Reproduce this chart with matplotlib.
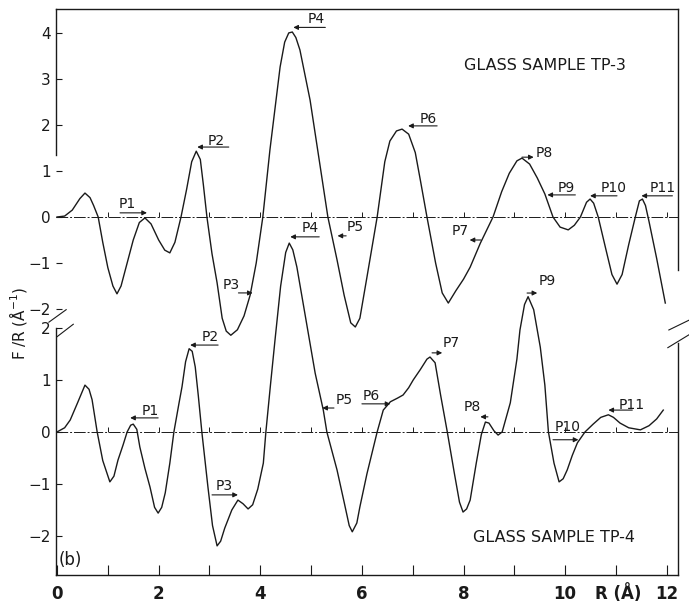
"""
Radial distribution F/R for glass samples TP-3 and TP-4 (two stacked curves).
"""

import matplotlib.pyplot as plt
import numpy as np

# ---- data ----
# upper curve: glass sample TP-3 (own y scale, -2 .. 4)
r_tp3 = [0.00, 0.15, 0.30, 0.45, 0.55, 0.65, 0.72, 0.81, 0.90, 1.00,
         1.10, 1.18, 1.26, 1.38, 1.50, 1.62, 1.73, 1.85, 2.00, 2.12,
         2.22, 2.32, 2.44, 2.55, 2.65, 2.74, 2.82, 2.88, 2.95, 3.05,
         3.15, 3.25, 3.33, 3.42, 3.55, 3.68, 3.80, 3.92, 4.05, 4.19,
         4.30, 4.39, 4.48, 4.56, 4.63, 4.70, 4.78, 4.98, 5.18, 5.33,
         5.51, 5.65, 5.78, 5.87, 5.96, 6.10, 6.30, 6.45, 6.55, 6.68,
         6.79, 6.92, 7.05, 7.15, 7.28, 7.45, 7.58, 7.70, 7.85, 8.00,
         8.13, 8.33, 8.58, 8.75, 8.90, 9.05, 9.15, 9.30, 9.45, 9.60,
         9.76, 9.90, 10.06, 10.18, 10.30, 10.42, 10.49, 10.56, 10.65, 10.80,
         10.92, 11.02, 11.12, 11.25, 11.38, 11.46, 11.52, 11.58, 11.65, 11.80,
         11.97]
f_tp3 = [0.00, 0.02, 0.15, 0.40, 0.52, 0.42, 0.25, 0.00, -0.55, -1.10,
         -1.50, -1.67, -1.50, -1.00, -0.50, -0.12, -0.02, -0.15, -0.50, -0.72,
         -0.78, -0.55, 0.00, 0.60, 1.20, 1.43, 1.25, 0.70, 0.00, -0.80,
         -1.43, -2.20, -2.48, -2.57, -2.45, -2.15, -1.70, -1.00, 0.00, 1.46,
         2.45, 3.26, 3.80, 4.00, 4.02, 3.90, 3.63, 2.54, 1.09, 0.00,
         -0.93, -1.70, -2.30, -2.39, -2.20, -1.30, 0.00, 1.20, 1.65, 1.87,
         1.91, 1.80, 1.40, 0.80, 0.00, -1.00, -1.65, -1.87, -1.60, -1.35,
         -1.09, -0.57, 0.00, 0.55, 0.95, 1.22, 1.28, 1.15, 0.85, 0.50,
         0.00, -0.22, -0.28, -0.18, 0.00, 0.32, 0.39, 0.30, 0.00, -0.70,
         -1.25, -1.46, -1.25, -0.60, 0.00, 0.35, 0.39, 0.25, -0.10, -0.90,
         -1.87]

# lower curve: glass sample TP-4 (own y scale, -2 .. 2)
r_tp4 = [0.00, 0.15, 0.26, 0.40, 0.55, 0.63, 0.69, 0.79, 0.90, 1.04,
         1.12, 1.20, 1.30, 1.38, 1.45, 1.50, 1.57, 1.63, 1.73, 1.83,
         1.92, 1.99, 2.06, 2.13, 2.22, 2.30, 2.40, 2.46, 2.53, 2.60,
         2.66, 2.72, 2.78, 2.85, 2.97, 3.06, 3.15, 3.22, 3.30, 3.44,
         3.56, 3.66, 3.76, 3.85, 3.95, 4.06, 4.11, 4.20, 4.29, 4.40,
         4.50, 4.57, 4.64, 4.72, 4.90, 5.08, 5.24, 5.31, 5.51, 5.65,
         5.75, 5.81, 5.90, 5.96, 6.10, 6.30, 6.42, 6.56, 6.70, 6.81,
         6.92, 7.01, 7.15, 7.28, 7.34, 7.44, 7.55, 7.68, 7.82, 7.92,
         7.99, 8.06, 8.13, 8.25, 8.35, 8.43, 8.50, 8.60, 8.68, 8.76,
         8.92, 9.05, 9.11, 9.20, 9.27, 9.38, 9.51, 9.60, 9.67, 9.78,
         9.88, 9.96, 10.04, 10.14, 10.24, 10.39, 10.55, 10.70, 10.85, 10.95,
         11.08, 11.25, 11.48, 11.65, 11.80, 11.93]
f_tp4 = [0.00, 0.08, 0.23, 0.55, 0.90, 0.82, 0.62, 0.00, -0.55, -0.96,
         -0.85, -0.54, -0.25, 0.00, 0.13, 0.15, 0.05, -0.29, -0.70, -1.06,
         -1.45, -1.56, -1.45, -1.17, -0.60, 0.00, 0.55, 0.87, 1.35, 1.60,
         1.55, 1.25, 0.70, 0.00, -1.06, -1.80, -2.19, -2.10, -1.85, -1.50,
         -1.31, -1.38, -1.48, -1.40, -1.10, -0.60, 0.00, 0.90, 1.77, 2.80,
         3.45, 3.63, 3.50, 3.17, 2.15, 1.13, 0.42, 0.00, -0.73, -1.35,
         -1.80, -1.92, -1.75, -1.44, -0.80, 0.00, 0.42, 0.58, 0.65, 0.71,
         0.85, 1.00, 1.20, 1.40, 1.44, 1.33, 0.70, 0.00, -0.80, -1.35,
         -1.54, -1.48, -1.31, -0.60, -0.05, 0.19, 0.17, 0.02, -0.06, 0.00,
         0.56, 1.40, 1.96, 2.45, 2.60, 2.35, 1.63, 0.90, 0.00, -0.60,
         -0.96, -0.90, -0.73, -0.45, -0.21, 0.00, 0.15, 0.28, 0.33, 0.28,
         0.17, 0.08, 0.04, 0.12, 0.25, 0.42]

# peak labels: name, text (R, F), arrow tail R, arrow head R, arrow F
labels_tp3 = ["P1", "P2", "P3", "P4", "P5", "P6", "P7", "P8", "P9", "P10", "P11"]
text_r_tp3 = [1.38, 3.13, 3.42, 5.10, 5.87, 7.30, 7.93, 9.59, 10.02, 10.96, 11.91]
text_f_tp3 = [0.28, 1.65, -1.47, 4.30, -0.22, 2.13, -0.30, 1.39, 0.63, 0.63, 0.63]
tail_r_tp3 = [1.24, 3.38, 3.57, 5.28, 5.69, 7.48, 8.34, 9.15, 10.20, 11.02, 12.11]
head_r_tp3 = [1.77, 2.76, 3.85, 4.65, 5.52, 6.91, 8.12, 9.38, 9.65, 10.49, 11.50]
arrow_f_tp3 = [0.09, 1.52, -1.65, 4.12, -0.41, 1.98, -0.50, 1.30, 0.48, 0.46, 0.46]

labels_tp4 = ["P1", "P2", "P3", "P4", "P5", "P6", "P7", "P8", "P9", "P10", "P11"]
text_r_tp4 = [1.83, 3.01, 3.29, 4.98, 5.65, 6.18, 7.76, 8.17, 9.65, 10.04, 11.30]
text_f_tp4 = [0.40, 1.83, -1.04, 3.92, 0.62, 0.69, 1.71, 0.48, 2.90, 0.10, 0.52]
tail_r_tp4 = [1.99, 3.17, 3.05, 5.16, 5.45, 6.00, 7.38, 8.48, 9.25, 9.76, 11.32]
head_r_tp4 = [1.44, 2.62, 3.56, 4.59, 5.22, 6.56, 7.58, 8.33, 9.45, 10.26, 10.85]
arrow_f_tp4 = [0.27, 1.67, -1.21, 3.75, 0.46, 0.54, 1.52, 0.29, 2.67, -0.15, 0.42]

x_ticks = list(range(0, 13))
x_tick_labels = ["0", "", "2", "", "4", "", "6", "", "8", "", "10", "", "12"]
y_ticks_tp3 = [-2, -1, 0, 1, 2, 3, 4]
y_ticks_tp4 = [-2, -1, 0, 1, 2]

ink = "#1a1a1a"

fig = plt.figure(figsize=(6.89, 6.08), dpi=100)
rect = [56 / 689, 1 - 575 / 608, 622 / 689, 566 / 608]
ax_b = fig.add_axes(rect)
ax_t = fig.add_axes(rect, sharex=ax_b)
ax_t.patch.set_visible(False)

ax_b.set_xlim(-0.02, 12.22)
ax_b.set_ylim(-2.75, 8.13)
ax_t.set_ylim(-7.78, 4.52)

# curves
ax_t.plot(r_tp3, f_tp3, color=ink, lw=1.0)
ax_b.plot(r_tp4, f_tp4, color=ink, lw=1.0)

# zero base lines with small marks at each integer R
for ax in (ax_t, ax_b):
    ax.axhline(0, color=ink, lw=0.7, ls=(0, (12, 2, 2, 2)))
    ax.vlines(np.arange(1, 13), 0, 0.1, color=ink, lw=0.7)

# peak labels with arrows
def draw_labels(ax, names, tr, tf, tails, heads, af):
    for name, x, y, t0, h0, ya in zip(names, tr, tf, tails, heads, af):
        ax.text(x, y, name, fontsize=10, ha="center", va="center", color=ink)
        ax.annotate("", xy=(h0, ya), xytext=(t0, ya),
                    arrowprops=dict(arrowstyle="-|>", color=ink, lw=0.8,
                                    mutation_scale=7, shrinkA=0, shrinkB=0))

draw_labels(ax_t, labels_tp3, text_r_tp3, text_f_tp3, tail_r_tp3, head_r_tp3, arrow_f_tp3)
draw_labels(ax_b, labels_tp4, text_r_tp4, text_f_tp4, tail_r_tp4, head_r_tp4, arrow_f_tp4)

# frame: broken y axis on both sides
for s in ("top", "bottom", "left", "right"):
    ax_t.spines[s].set_visible(s in ("top", "left", "right"))
    ax_b.spines[s].set_visible(s in ("bottom", "left", "right"))
    for ax in (ax_t, ax_b):
        ax.spines[s].set_linewidth(1.0)
        ax.spines[s].set_color(ink)
ax_t.spines["left"].set_bounds(1.35, 4.52)
ax_t.spines["right"].set_bounds(-1.15, 4.52)
ax_b.spines["left"].set_bounds(-2.75, 2.0)
ax_b.spines["right"].set_bounds(-2.75, 1.71)

# break marks
kw = dict(color=ink, lw=0.8, clip_on=False)
ax_b.plot([-0.16, 0.18], [2.11, 2.35], **kw)
ax_b.plot([0.0, 0.32], [1.83, 2.07], **kw)
ax_b.plot([12.04, 12.44], [1.96, 2.15], **kw)
ax_b.plot([12.02, 12.44], [1.62, 1.87], **kw)

# ticks
ax_b.set_xticks(x_ticks)
ax_b.set_xticklabels(x_tick_labels, fontsize=12, fontweight="bold")
ax_b.tick_params(axis="x", direction="in", length=7, width=0.8, pad=7, colors=ink)
ax_b.set_yticks(y_ticks_tp4)
ax_b.tick_params(axis="y", direction="in", length=4, width=0.8, pad=4, labelsize=11, colors=ink)
ax_t.tick_params(axis="x", bottom=False, labelbottom=False)
ax_t.set_yticks(y_ticks_tp3)
ax_t.tick_params(axis="y", direction="in", length=4, width=0.8, pad=4, labelsize=11, colors=ink)

# annotations
ax_t.text(9.6, 3.29, "GLASS SAMPLE TP-3", fontsize=11.5, ha="center", va="center", color=ink)
ax_b.text(9.78, -2.02, "GLASS SAMPLE TP-4", fontsize=11.5, ha="center", va="center", color=ink)
ax_b.text(0.03, -2.46, "(b)", fontsize=12, ha="left", va="center", color=ink)
fig.text(618 / 689, 1 - 594 / 608, "R (Å)", fontsize=12, fontweight="bold",
         ha="center", va="center", color=ink)
fig.text(18 / 689, 1 - 323 / 608, "F /R (Å$^{-1}$)", fontsize=11, rotation=90,
         ha="center", va="center", color=ink)

plt.savefig("out.png", dpi=100)
plt.close()
